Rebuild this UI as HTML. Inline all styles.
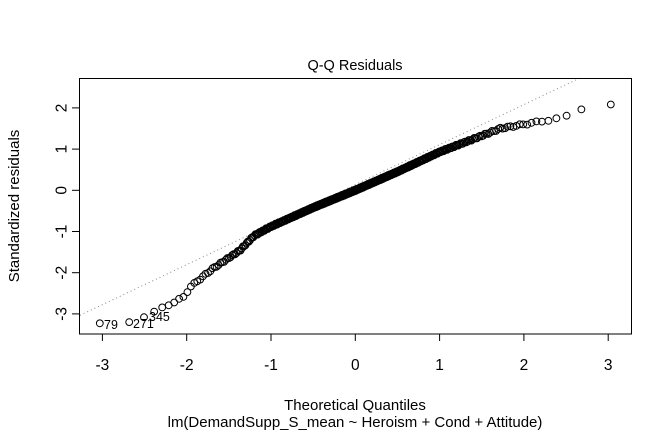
<!DOCTYPE html>
<html><head><meta charset="utf-8"><style>
html,body{margin:0;padding:0;background:#fff;}
svg{display:block;font-family:"Liberation Sans",Arial,sans-serif;}
</style></head><body>
<svg id="s" width="672" height="432" viewBox="0 0 672 432" xmlns="http://www.w3.org/2000/svg">
<rect x="0" y="0" width="672" height="432" fill="#fff"/>
<text x="355" y="70" font-size="14.5" text-anchor="middle">Q-Q Residuals</text>
<text x="355" y="410" font-size="15" text-anchor="middle">Theoretical Quantiles</text>
<text x="355" y="427" font-size="15" text-anchor="middle">lm(DemandSupp_S_mean ~ Heroism + Cond + Attitude)</text>
<text transform="translate(19,206) rotate(-90)" font-size="15" text-anchor="middle">Standardized residuals</text>
<g id="ax" stroke="#000" stroke-width="1" fill="none"></g>
<g id="lbl" font-size="15.5" text-anchor="middle"></g>
<line x1="80" y1="315.3" x2="580" y2="78" stroke="#888" stroke-width="1" stroke-dasharray="1,3"/>
<g id="pts" fill="none" stroke="#000" stroke-width="1"></g>
<text x="104" y="329" font-size="12.5">79</text>
<text x="133" y="328" font-size="12.5">271</text>
<text x="149" y="321" font-size="12.5">345</text>
<rect x="79.5" y="78.5" width="552" height="255.5" fill="none" stroke="#000"/>
</svg>
<script>
var NS="http://www.w3.org/2000/svg";
function el(p,t,a){var e=document.createElementNS(NS,t);for(var k in a)e.setAttribute(k,a[k]);p.appendChild(e);return e;}
var ax=document.getElementById('ax'),lb=document.getElementById('lbl'),pts=document.getElementById('pts');
function X(q){return 355.3+84.3*q;} function Y(r){return 190.3-41.2*r;}
for(var i=-3;i<=3;i++){el(ax,'line',{x1:X(i),y1:334,x2:X(i),y2:341});var t=el(lb,'text',{x:X(i),y:370});t.textContent=i;}
for(var j=-3;j<=2;j++){el(ax,'line',{x1:79,y1:Y(j),x2:72,y2:Y(j)});var t2=el(lb,'text',{x:0,y:0,transform:'translate(62,'+Y(j)+') rotate(-90)','dominant-baseline':'central'});t2.textContent=j;}
function qnorm(p){var a=[-39.6968302866538,220.946098424521,-275.928510446969,138.357751867269,-30.6647980661472,2.50662827745924],b=[-54.4760987982241,161.585836858041,-155.698979859887,66.8013118877197,-13.2806815528857],c=[-0.00778489400243029,-0.322396458041136,-2.40075827716184,-2.54973253934373,4.37466414146497,2.93816398269878],d=[0.00778469570904146,0.32246712907004,2.445134137143,3.75440866190742];var q,r;if(p<0.02425){q=Math.sqrt(-2*Math.log(p));return(((((c[0]*q+c[1])*q+c[2])*q+c[3])*q+c[4])*q+c[5])/((((d[0]*q+d[1])*q+d[2])*q+d[3])*q+1);}if(p>1-0.02425){q=Math.sqrt(-2*Math.log(1-p));return-(((((c[0]*q+c[1])*q+c[2])*q+c[3])*q+c[4])*q+c[5])/((((d[0]*q+d[1])*q+d[2])*q+d[3])*q+1);}q=p-0.5;r=q*q;return(((((a[0]*r+a[1])*r+a[2])*r+a[3])*r+a[4])*r+a[5])*q/(((((b[0]*r+b[1])*r+b[2])*r+b[3])*r+b[4])*r+1);}
var K=[[-3.1,-3.27],[-3.04,-3.25],[-2.69,-3.2],[-2.45,-3.02],[-2.04,-2.6],[-1.96,-2.35],[-1.69,-1.9],[-1.37,-1.46],[-1.2,-1.1],[-1.0,-0.88],[-0.5,-0.42],[0,0],[0.5,0.45],[1.0,0.93],[1.42,1.26],[1.72,1.5],[2.19,1.67],[2.43,1.75],[2.51,1.8],[2.69,1.99],[3.03,2.09],[3.1,2.1]];
function f(q){for(var i=0;i<K.length-1;i++){if(q<=K[i+1][0]){var t=(q-K[i][0])/(K[i+1][0]-K[i][0]);return K[i][1]+t*(K[i+1][1]-K[i][1]);}}return K[K.length-1][1];}
var n=410;
for(var i=1;i<=n;i++){var p=(i-0.5)/n;var q=qnorm(p);var r=f(q)+0.02*Math.sin(i*1.7);el(pts,'circle',{cx:X(q).toFixed(1),cy:Y(r).toFixed(1),r:3.4});}
</script>
</body></html>
